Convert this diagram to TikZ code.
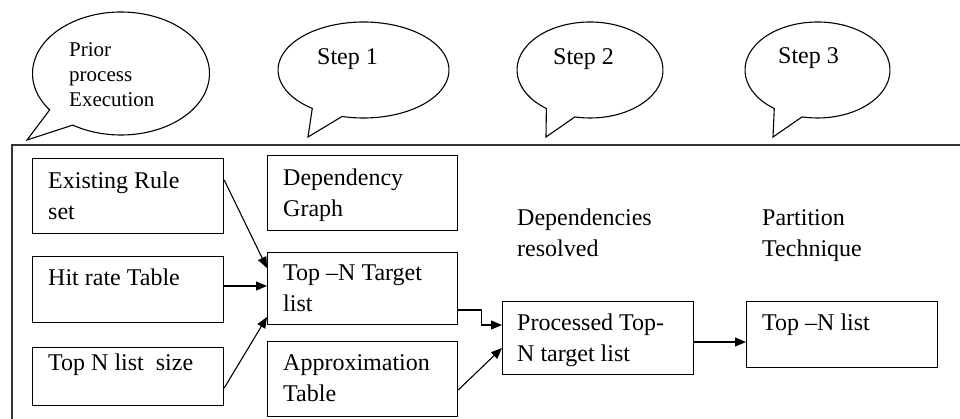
\documentclass[tikz,border=0pt]{standalone}
\usepackage{fontspec}
\setmainfont{Liberation Serif}
\usetikzlibrary{arrows.meta,calc}
\newcommand{\bstrut}{\rule{0pt}{16.5pt}}
\newcommand{\sstrut}{\rule{0pt}{14.5pt}}
\newcommand{\speechbubble}[8]{%
  \draw[bub] ([shift={(#5:#3 and #4)}]#1,#2) arc[start angle=#5, end angle=#6+360, x radius=#3, y radius=#4] -- (#7,#8) -- cycle;}
\begin{document}
\begin{tikzpicture}[x=1pt,y=-1pt,
  box/.style={draw, line width=1.2pt, inner sep=0pt, anchor=north west},
  txt/.style={inner sep=0pt, anchor=north west, align=left, font=\fontsize{24}{31}\selectfont},
  btxt/.style={inner sep=0pt, anchor=north west, align=left, font=\fontsize{21}{25}\selectfont},
  stxt/.style={inner sep=0pt, anchor=north west, align=left, font=\fontsize{24}{30}\selectfont},
  arr/.style={line width=1.1pt, -{Triangle[length=11pt,width=9pt]}},
  bub/.style={draw, line width=1.1pt, fill=white},
  frame/.style={line width=1.4pt, draw=black!80}]
\useasboundingbox (0,0) rectangle (960,419);

% outer frame (extends beyond the picture)
\draw[frame] (962,145) -- (12,145) -- (12,421);

% speech bubbles
\speechbubble{121}{73.5}{88.5}{61.5}{143.7}{123}{27}{140}
\speechbubble{363.5}{70}{85.5}{48}{126.8}{104.5}{308}{137}
\speechbubble{590}{70}{73}{48}{126.7}{102}{546}{137}
\speechbubble{817.5}{70}{72.5}{48}{126.6}{102.3}{773}{137}

\node[btxt] (t0) at (69,41.5) {\sstrut Prior\\process\\Execution};
\node[stxt] (t1) at (317,47.5) {\bstrut Step 1};
\node[stxt] (t2) at (553,47.5) {\bstrut Step 2};
\node[stxt] (t3) at (778,46.5) {\bstrut Step 3};

% boxes
\node[box, minimum width=191pt, minimum height=75pt] (rule) at (32,158) {};
\node[box, minimum width=191pt, minimum height=66pt] (hit) at (32,256) {};
\node[box, minimum width=191pt, minimum height=58pt] (size) at (32,347) {};
\node[box, minimum width=190pt, minimum height=75pt] (dep) at (267,155) {};
\node[box, minimum width=190pt, minimum height=72pt] (tgt) at (267,252) {};
\node[box, minimum width=190pt, minimum height=75pt] (apx) at (267,341) {};
\node[box, minimum width=191pt, minimum height=73pt] (proc) at (502,301) {};
\node[box, minimum width=191pt, minimum height=66pt] (topn) at (746,301) {};

% box texts
\node[txt] (ruletxt) at (48,171.5) {\bstrut Existing Rule\\set};
\node[txt] (hittxt) at (48,268.5) {\bstrut Hit rate Table};
\node[txt] (sizetxt) at (48,353.5) {\bstrut Top N list\ \ size};
\node[txt] (deptxt) at (283,168.5) {\bstrut Dependency\\Graph};
\node[txt] (tgttxt) at (283,263.5) {\bstrut Top –N Target\\list};
\node[txt] (apxtxt) at (283,353.5) {\bstrut Approximation\\Table};
\node[txt] (proctxt) at (517,313.5) {\bstrut Processed Top-\\N target list};
\node[txt] (topntxt) at (762,313.5) {\bstrut Top –N list};
\node[txt] (resolved) at (517,208.5) {\bstrut Dependencies\\resolved};
\node[txt] (partition) at (762,208.5) {\bstrut Partition\\Technique};

% connectors
\draw[arr] ($(rule.north east)+(0,22)$) -- ($(tgt.north west)+(0,16)$);
\draw[arr] ($(hit.north east)+(0,30)$) -- ($(tgt.north west)+(0,34)$);
\draw[arr] ($(size.north east)+(0,41)$) -- ($(tgt.north west)+(0,65)$);
\draw[arr] ($(tgt.north east)+(0,58)$) -- ++(23,0) |- ($(proc.north west)+(0,24)$);
\draw[arr] ($(apx.north east)+(0,49)$) -- ($(proc.north west)+(0,47)$);
\draw[arr] ($(proc.north east)+(0,41)$) -- ($(topn.north west)+(0,41)$);
\end{tikzpicture}
\end{document}
